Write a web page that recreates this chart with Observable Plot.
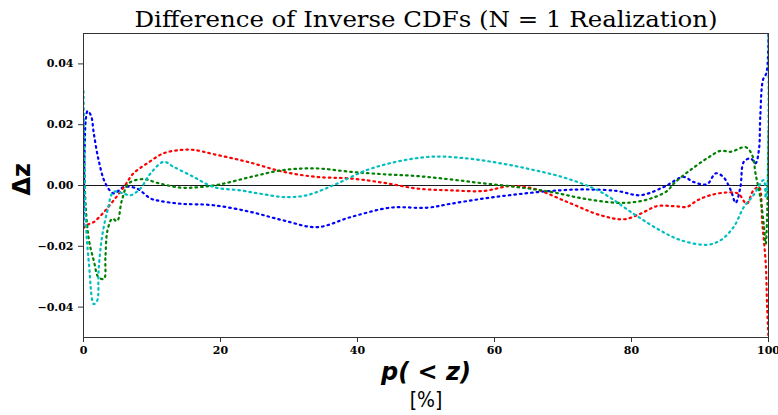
<!DOCTYPE html>
<html>
<head>
<meta charset="utf-8">
<script src="https://cdn.jsdelivr.net/npm/d3@7"></script>
<script src="https://cdn.jsdelivr.net/npm/@observablehq/plot@0.6"></script>
<style>
  html, body { margin: 0; padding: 0; background: #fff; }
  #chart svg { display: block; }
</style>
</head>
<body>
<div id="chart"></div>
<script>
// ---- data ----
const titleText = "Difference of Inverse CDFs (N = 1 Realization)";
const xLabel = "p( < z)";
const xUnit = "[%]";
const yLabel = "Δz";
const xTicks = [0, 20, 40, 60, 80, 100];
const yTicks = [-0.04, -0.02, 0, 0.02, 0.04];

const pBlue = [0, 0.15, 0.35, 0.6, 1.1, 1.5, 2.2, 3.2, 4.4, 5.9, 7.8, 9.8, 11.2, 14.2, 19, 24.4, 29.2, 34.1, 39, 44.8, 50.2, 53.6, 58.4, 63.3, 68.2, 73, 77.9, 81.3, 84.7, 87.6, 89, 91, 92.3, 93.4, 94.5, 95.2, 95.9, 96.4, 97.4, 98.1, 98.6, 98.8, 99.2, 99.7, 100];
const dzBlue = [-0.013, 0.010, 0.022, 0.0245, 0.023, 0.0172, 0.0084, 0.0007, -0.0026, -0.0005, -0.001, -0.0043, -0.0051, -0.006, -0.0065, -0.0087, -0.0115, -0.0137, -0.0104, -0.0073, -0.0073, -0.006, -0.0043, -0.0029, -0.0018, -0.0013, -0.0018, -0.0032, -0.0005, 0.0028, 0.0012, 0.0004, 0.004, 0.0028, -0.0016, -0.0057, -0.0005, 0.0078, 0.0089, 0.0073, 0.0117, 0.0227, 0.0348, 0.037, 0.05];

const pRed = [0, 0.5, 1.5, 3, 4.4, 5.9, 7.3, 9.3, 11.7, 14.2, 16.1, 19, 23.9, 29.2, 34.1, 39, 43.8, 48.7, 53.6, 58.4, 62.3, 65.7, 70.6, 75.5, 78.9, 81.3, 83.7, 86.2, 88.1, 89.6, 91.5, 93.9, 95.6, 96.8, 97.8, 98.6, 99.1, 99.6, 99.8, 100];
const dzRed = [-0.014, -0.013, -0.012, -0.0087, -0.0049, -0.0005, 0.004, 0.0073, 0.0106, 0.0117, 0.0117, 0.0103, 0.0078, 0.0045, 0.0028, 0.0023, 0.0009, -0.001, -0.0016, -0.0018, -0.0002, -0.001, -0.0054, -0.0098, -0.0111, -0.0093, -0.0068, -0.0068, -0.007, -0.0049, -0.0032, -0.0023, -0.0027, -0.006, -0.0016, -0.0005, -0.0126, -0.0258, -0.04, -0.05];

const pGreen = [0, 0.15, 0.3, 0.8, 1.5, 2.2, 3, 3.2, 3.5, 4.2, 4.9, 5.6, 6.6, 8.8, 10.7, 14.2, 17.1, 20, 24.4, 29.2, 34.1, 39, 43.8, 48.7, 53.6, 58.4, 63.3, 68.2, 73, 77.9, 80.3, 82.8, 85.2, 86.2, 88.6, 91, 93, 94.5, 96.7, 97.7, 98.1, 98.8, 99.3, 99.6, 99.8, 100];
const dzGreen = [0.020, 0.005, -0.006, -0.018, -0.0247, -0.0302, -0.0307, -0.0236, -0.0148, -0.0109, -0.0117, -0.0049, 0.0007, 0.0021, 0.0009, -0.0007, -0.0005, 0.0004, 0.0028, 0.0051, 0.0056, 0.0045, 0.0037, 0.0031, 0.002, 0.0007, -0.0005, -0.0021, -0.0043, -0.0057, -0.0055, -0.0043, -0.0018, 0.0007, 0.0051, 0.0089, 0.0114, 0.0111, 0.0126, 0.0095, 0.004, -0.0038, -0.0126, -0.0192, -0.01, 0.018];

const pCyan = [0, 0.1, 0.2, 0.4, 0.8, 1.5, 2, 2.2, 2.7, 3.5, 4.4, 5.9, 6.9, 8.3, 9.8, 11.7, 13.1, 16.1, 19, 22.9, 25.8, 29.2, 32.6, 36.5, 41.4, 46.3, 51.1, 56, 60.9, 65.7, 70.6, 75.5, 80.3, 84.2, 87.2, 91, 93, 94.9, 96.4, 97.8, 99.3, 99.6, 99.85, 100];
const dzCyan = [0.031, 0.015, -0.005, -0.0148, -0.0258, -0.039, -0.0379, -0.028, -0.017, -0.0082, -0.0021, -0.0027, -0.0032, -0.001, 0.004, 0.0078, 0.0062, 0.0028, -0.0005, -0.0016, -0.0027, -0.0038, -0.0032, 0.0001, 0.0051, 0.0081, 0.0095, 0.0089, 0.0073, 0.0051, 0.0023, -0.0021, -0.0093, -0.0148, -0.018, -0.0195, -0.018, -0.0137, -0.0071, -0.0032, 0.0018, -0.004, 0.0, 0.05];

const seriesNames = ["blue", "red", "green", "cyan"];
const seriesColors = ["#0000ff", "#ff0000", "#008000", "#00bfbf"];

// ---- build tables ----
const toRows = (xs, ys) => xs.map((x, i) => ({x, y: ys[i]}));
const tables = [toRows(pBlue, dzBlue), toRows(pRed, dzRed), toRows(pGreen, dzGreen), toRows(pCyan, dzCyan)];

const W = 778, H = 415;
const chart = Plot.plot({
  width: W,
  height: H,
  marginLeft: 83,
  marginRight: 10,
  marginTop: 33,
  marginBottom: 78,
  style: {fontFamily: "DejaVu Serif", fontSize: "11px", fontWeight: "bold", color: "#000", background: "#fff"},
  x: {domain: [0, 100]},
  y: {domain: [-0.05, 0.05]},
  marks: [
    Plot.ruleY([0], {stroke: "#000", strokeWidth: 0.9}),
    ...tables.map((t, i) => Plot.line(t, {
      x: "x", y: "y", stroke: seriesColors[i], strokeWidth: 2.2,
      strokeDasharray: "1.6,4", curve: "catmull-rom", clip: true
    })),
    Plot.frame({stroke: "#333", strokeWidth: 1}),
    Plot.axisX({ticks: xTicks, tickSize: 5, tickPadding: 4, tickFormat: d3.format("d"), label: null, stroke: "#333"}),
    Plot.axisY({ticks: yTicks, tickSize: 5, tickPadding: 5, tickFormat: d3.format(".2f"), label: null, stroke: "#333"}),
    Plot.text([titleText], {frameAnchor: "top", dy: -14, fontFamily: "DejaVu Serif", fontWeight: "normal", fontSize: 22, fill: "#000", lineAnchor: "middle", className: "ttl"}),
    Plot.text([xLabel], {frameAnchor: "bottom", dy: 35, fontFamily: "DejaVu Sans", fontWeight: "bold", fontStyle: "italic", fontSize: 24, fill: "#000", lineAnchor: "middle"}),
    Plot.text([xUnit], {frameAnchor: "bottom", dy: 63, fontFamily: "DejaVu Sans Condensed, DejaVu Sans", fontWeight: "normal", fontSize: 21, fill: "#000", lineAnchor: "middle"}),
    Plot.text([yLabel], {frameAnchor: "left", dx: -61, dy: 10, rotate: -90, fontFamily: "DejaVu Sans", fontWeight: "bold", fontSize: 24, fill: "#000", lineAnchor: "middle"})
  ]
});
// stretch the title to the reference width
chart.querySelectorAll(".ttl text").forEach(t => {
  t.setAttribute("textLength", 583);
  t.setAttribute("lengthAdjust", "spacingAndGlyphs");
});
document.getElementById("chart").appendChild(chart);
</script>
</body>
</html>
